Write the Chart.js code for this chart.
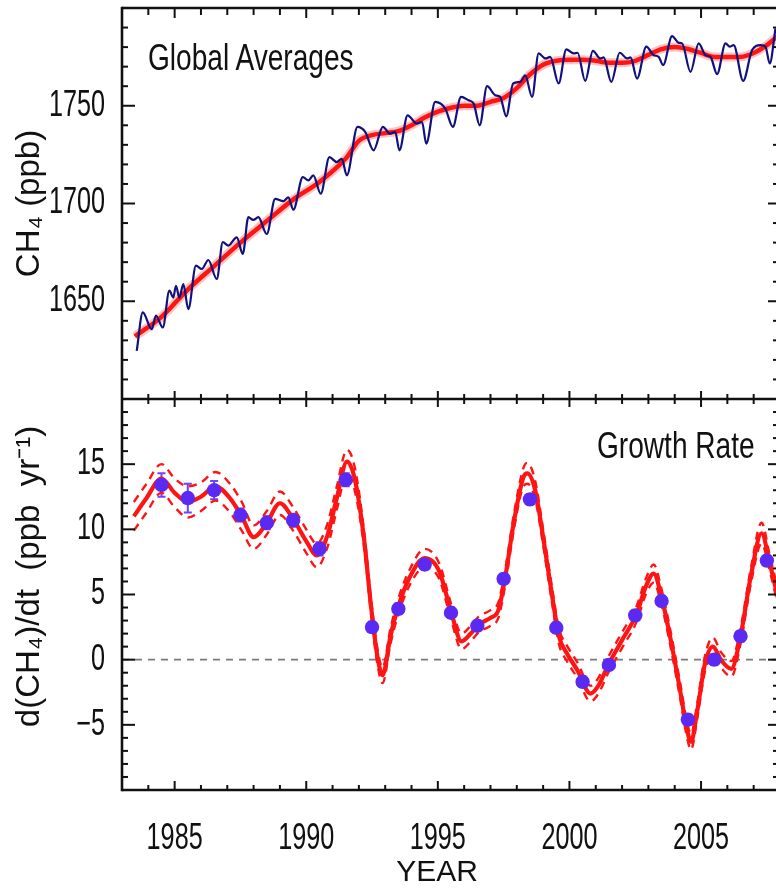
<!DOCTYPE html>
<html><head><meta charset="utf-8">
<script src="https://cdn.jsdelivr.net/npm/chart.js@4.4.1/dist/chart.umd.min.js"></script>
<style>
html,body{margin:0;padding:0;background:#fff;overflow:hidden;width:776px;height:891px;}
#wrap{position:relative;width:776px;height:891px;overflow:hidden;background:#fff;}
canvas{position:absolute;left:0;top:0;}
.lbl{position:absolute;font-family:'Liberation Sans',Arial,sans-serif;font-size:36px;line-height:1;color:#111;transform-origin:0 0;transform:scaleX(0.78);white-space:nowrap;}
</style></head><body>
<div id="wrap"><canvas id="c" width="781" height="891"></canvas>
<div class="lbl" style="left:148px;top:40px">Global Averages</div>
<div class="lbl" style="left:597px;top:428px">Growth Rate</div>
</div>
<script>
// ---- data ----
const monthYears = [1983.56,1983.79,1984.13,1984.29,1984.55,1984.80,1984.95,1985.05,1985.18,1985.33,1985.52,1985.81,1986.03,1986.28,1986.60,1986.83,1987.04,1987.36,1987.59,1987.80,1987.99,1988.18,1988.50,1988.82,1989.13,1989.32,1989.51,1989.87,1990.08,1990.27,1990.55,1990.88,1991.16,1991.35,1991.54,1991.95,1992.24,1992.56,1992.91,1993.19,1993.38,1993.54,1993.85,1994.20,1994.40,1994.56,1994.90,1995.28,1995.57,1995.88,1996.17,1996.36,1996.59,1996.87,1997.18,1997.37,1997.60,1997.86,1998.13,1998.32,1998.58,1998.83,1999.08,1999.27,1999.59,1999.88,2000.16,2000.31,2000.60,2000.89,2001.17,2001.30,2001.59,2001.91,2002.19,2002.32,2002.57,2002.92,2003.20,2003.39,2003.56,2003.90,2004.15,2004.28,2004.60,2004.91,2005.17,2005.36,2005.61,2005.93,2006.09,2006.24,2006.60,2006.94,2007.26,2007.45,2007.61,2007.83];
const monthCH4 = [1624.6,1644.3,1635.7,1642.6,1636.6,1655.4,1651.9,1657.9,1651.9,1658.8,1646.0,1668.2,1666.5,1671.1,1661.4,1680.2,1678.5,1682.7,1674.2,1693.0,1691.6,1693.0,1684.4,1702.4,1701.2,1703.2,1696.8,1713.5,1711.8,1714.4,1705.0,1723.7,1721.2,1722.9,1714.4,1739.2,1736.6,1727.2,1739.2,1735.7,1736.6,1727.2,1745.1,1740.9,1741.7,1730.6,1752.0,1748.6,1739.2,1754.5,1752.8,1751.1,1740.0,1760.0,1755.4,1754.5,1744.6,1761.4,1762.2,1765.6,1754.5,1776.8,1774.2,1775.0,1761.4,1778.8,1776.8,1777.1,1762.7,1778.1,1774.2,1774.7,1762.2,1777.1,1774.2,1774.7,1763.9,1780.2,1775.9,1775.0,1770.8,1785.6,1782.2,1781.9,1767.3,1781.9,1775.9,1775.0,1766.2,1781.9,1780.2,1781.0,1762.7,1778.5,1781.0,1780.2,1771.6,1789.6];

const trendYears = [1983.49,1984.5,1985.5,1986.5,1987.5,1988.5,1989.5,1990.5,1991.5,1992.0,1992.5,1993.0,1993.5,1994.0,1994.5,1995.0,1995.5,1996.0,1996.5,1997.0,1997.5,1998.0,1998.5,1999.0,1999.5,2000.0,2000.5,2001.0,2001.5,2002.0,2002.5,2003.0,2003.5,2004.0,2004.5,2005.0,2005.5,2006.0,2006.5,2007.0,2007.5,2007.9];
const trendCH4 = [1632,1642,1656,1668,1680,1691,1702,1711,1723,1732,1735,1736,1737,1740,1744,1747,1749,1750,1750,1752,1754,1759,1766,1771,1773,1773.5,1773.5,1773,1772,1772,1773,1776,1779,1780,1779,1777,1775,1775,1775,1777,1781,1785.5];

const growthYears = [1983.45,1983.9,1984.5,1985.0,1985.5,1986.0,1986.55,1987.1,1987.55,1988.0,1988.5,1989.0,1989.5,1990.0,1990.4,1990.8,1991.15,1991.55,1991.85,1992.2,1992.45,1992.7,1992.9,1993.2,1993.5,1993.95,1994.5,1995.05,1995.5,1995.9,1996.25,1996.55,1997.0,1997.3,1997.55,1997.9,1998.25,1998.4,1998.7,1999.0,1999.35,1999.6,1999.9,2000.3,2000.8,2001.1,2001.5,2002.0,2002.55,2002.9,2003.2,2003.5,2003.85,2004.2,2004.45,2004.62,2004.85,2005.15,2005.45,2005.75,2006.15,2006.5,2006.9,2007.3,2007.6,2007.95];
const growthRate = [11.0,12.3,13.9,12.8,12.1,12.5,13.3,12.4,11.0,9.4,10.5,12.0,10.8,9.1,8.0,9.5,12.3,15.2,13.8,9.2,4.3,0.3,-1.2,1.8,4.1,6.4,7.8,6.8,3.7,1.4,2.0,2.7,3.2,3.8,6.2,10.7,14.0,14.3,13.0,9.4,4.8,1.8,0.5,-0.8,-2.6,-2.0,-0.3,1.5,3.5,5.6,6.6,4.8,1.5,-2.3,-5.2,-6.3,-4.0,-0.3,1.0,0.0,-0.7,1.8,6.5,9.7,7.5,4.5];
const growthUpper = [12.1,13.4,15.0,13.9,13.3,13.6,14.4,13.5,12.1,10.3,11.4,12.9,11.7,10.0,8.9,10.4,13.2,16.1,14.7,9.8,4.9,0.9,-0.6,2.4,4.7,7.0,8.5,7.4,4.3,2.0,2.6,3.3,3.8,4.4,6.8,11.3,14.7,15.1,13.7,10.0,5.4,2.4,1.1,-0.2,-2.0,-1.4,0.3,2.1,4.1,6.2,7.3,5.4,2.1,-1.7,-4.6,-5.7,-3.4,0.3,1.7,0.6,-0.1,2.4,7.1,10.5,8.1,5.1];
const growthLower = [9.9,11.2,12.8,11.7,10.9,11.4,12.2,11.3,9.9,8.5,9.6,11.1,9.9,8.2,7.1,8.6,11.4,14.3,12.9,8.6,3.7,-0.3,-1.8,1.2,3.5,5.8,7.1,6.2,3.1,0.8,1.4,2.1,2.6,3.2,5.6,10.1,13.3,13.5,12.3,8.8,4.2,1.2,-0.1,-1.4,-3.2,-2.6,-0.9,0.9,2.9,5.0,5.9,4.2,0.9,-2.9,-5.8,-6.9,-4.6,-0.9,0.3,-0.6,-1.3,1.2,5.9,8.9,6.9,3.9];

const annualYears = [1984.5,1985.5,1986.5,1987.5,1988.5,1989.5,1990.5,1991.5,1992.5,1993.5,1994.5,1995.5,1996.5,1997.5,1998.5,1999.5,2000.5,2001.5,2002.5,2003.5,2004.5,2005.5,2006.5,2007.5];
const annualGrowth = [13.4,12.4,13.0,11.1,10.5,10.7,8.5,13.8,2.5,3.9,7.3,3.6,2.6,6.2,12.3,2.45,-1.7,-0.4,3.4,4.5,-4.6,0.0,1.8,7.6];
const annualError = [0.9,1.1,0.7,0.5,0.5,0.5,0.5,0.5,0.4,0.4,0.4,0.4,0.4,0.4,0.4,0.4,0.4,0.4,0.4,0.4,0.4,0.4,0.4,0.4];

const xTickLabels = [1985,1990,1995,2000,2005];
const topTickLabels = [1650,1700,1750];
const botTickLabels = [-5,0,5,10,15];

// ---- chart ----
const FONT = "'Liberation Sans',Arial,sans-serif";
const pts = (xs, ys) => xs.map((x, i) => ({x: x, y: ys[i]}));
const RED = '#ff1414';
const CONDENSE = 0.7;

// tick labels drawn horizontally condensed (narrow plotting font); titles nudged
const condensePlugin = {
  id: 'condense',
  beforeDraw(chart) {
    ['x', 'yTop', 'yBot'].forEach(id => {
      const s = chart.scales[id];
      if (!s || s._condensed) return;
      s._condensed = true;
      s.drawLabels = function(area) {
        const ctx = this.ctx;
        const items = this.getLabelItems(area);
        for (const it of items) {
          const o = it.options;
          ctx.save();
          ctx.translate(o.translation[0], o.translation[1]);
          ctx.rotate(o.rotation || 0);
          ctx.scale(CONDENSE, 1);
          ctx.font = it.font.string;
          ctx.fillStyle = o.color;
          ctx.textAlign = o.textAlign;
          ctx.textBaseline = o.textBaseline;
          ctx.fillText(String(it.label), 0, it.textOffset);
          ctx.restore();
        }
      };
    });
    const shiftTitle = (s, key, amount) => {
      if (!s || s._titleShifted) return;
      s._titleShifted = true;
      const orig = s.drawTitle.bind(s);
      s.drawTitle = function() {
        const saved = this[key];
        this[key] = saved - amount;
        orig();
        this[key] = saved;
      };
    };
    shiftTitle(chart.scales.yBot, 'bottom', 36);
    shiftTitle(chart.scales.x, 'right', 28);
  }
};

const framePlugin = {
  id: 'frame',
  beforeDatasetsDraw(chart) {
    const {ctx, chartArea: ca, scales} = chart;
    const xs = scales.x, yb = scales.yBot;
    ctx.save();
    const y0 = yb.getPixelForValue(0);
    ctx.strokeStyle = '#7a7a7a'; ctx.lineWidth = 1.6; ctx.setLineDash([7, 6]);
    ctx.beginPath(); ctx.moveTo(ca.left, y0); ctx.lineTo(ca.right, y0); ctx.stroke();
    ctx.setLineDash([]); ctx.strokeStyle = '#6a45ff'; ctx.lineWidth = 2;
    annualYears.forEach((yr, i) => {
      const px = xs.getPixelForValue(yr);
      const hi = yb.getPixelForValue(annualGrowth[i] + annualError[i]);
      const lo = yb.getPixelForValue(annualGrowth[i] - annualError[i]);
      ctx.beginPath();
      ctx.moveTo(px, hi); ctx.lineTo(px, lo);
      ctx.moveTo(px - 4, hi); ctx.lineTo(px + 4, hi);
      ctx.moveTo(px - 4, lo); ctx.lineTo(px + 4, lo);
      ctx.stroke();
    });
    ctx.restore();
  },
  afterDatasetsDraw(chart) {
    const {ctx, chartArea: ca, scales} = chart;
    const xs = scales.x, yt = scales.yTop, yb = scales.yBot;
    const div = yt.bottom;
    ctx.save();
    ctx.strokeStyle = '#111'; ctx.setLineDash([]);
    const seg = (x1, y1, x2, y2) => { ctx.beginPath(); ctx.moveTo(x1, y1); ctx.lineTo(x2, y2); ctx.stroke(); };
    ctx.lineWidth = 2;
    for (let yr = Math.ceil(xs.min); yr <= xs.max; yr++) {
      const px = xs.getPixelForValue(yr);
      const major = yr % 5 === 0;
      seg(px, ca.top, px, ca.top + (major ? 10 : 7));
      seg(px, div - (major ? 8 : 5), px, div + (major ? 8 : 5));
      seg(px, ca.bottom, px, ca.bottom - (major ? 9 : 5));
    }
    for (let v = yt.min; v <= yt.max; v += 10) {
      const py = yt.getPixelForValue(v);
      const major = v % 50 === 0;
      seg(ca.left, py, ca.left + (major ? 13 : 6), py);
      seg(ca.right, py, ca.right - (major ? 12 : 7), py);
    }
    for (let v = yb.min; v <= yb.max; v += 1) {
      const py = yb.getPixelForValue(v);
      const major = v % 5 === 0;
      seg(ca.left, py, ca.left + (major ? 13 : 6), py);
      seg(ca.right, py, ca.right - (major ? 12 : 7), py);
    }
    ctx.lineWidth = 2.6;
    seg(ca.left, ca.top, ca.right, ca.top);
    seg(ca.left, ca.bottom, ca.right, ca.bottom);
    seg(ca.left, div, ca.right, div);
    seg(ca.left, ca.top - 1.3, ca.left, ca.bottom + 1.3);
    seg(ca.right, ca.top - 1.3, ca.right, ca.bottom + 1.3);
    ctx.restore();
  }
};

const tickFont = {family: FONT, size: 36};
const titleFont = {family: FONT, size: 33};

new Chart(document.getElementById('c'), {
  type: 'line',
  data: {datasets: [
    {label: 'CH4 monthly', data: pts(monthYears, monthCH4), yAxisID: 'yTop', borderColor: '#10107e', borderWidth: 2.2, pointRadius: 0, cubicInterpolationMode: 'monotone'},
    {label: 'CH4 trend', data: pts(trendYears, trendCH4), yAxisID: 'yTop', borderColor: RED, borderWidth: 4.5, pointRadius: 0, cubicInterpolationMode: 'monotone'},
    {label: 'CH4 trend halo', data: pts(trendYears, trendCH4), yAxisID: 'yTop', borderColor: 'rgba(255,90,90,0.35)', borderWidth: 9, pointRadius: 0, cubicInterpolationMode: 'monotone'},
    {label: 'Annual growth', data: pts(annualYears, annualGrowth), yAxisID: 'yBot', showLine: false, pointRadius: 7.2, pointBackgroundColor: '#5a2af2', pointBorderWidth: 0, borderColor: '#5a2af2'},
    {label: 'Growth rate', data: pts(growthYears, growthRate), yAxisID: 'yBot', borderColor: RED, borderWidth: 4.2, pointRadius: 0, cubicInterpolationMode: 'monotone'},
    {label: 'Upper', data: pts(growthYears, growthUpper), yAxisID: 'yBot', borderColor: RED, borderWidth: 2.4, borderDash: [8, 6], pointRadius: 0, cubicInterpolationMode: 'monotone'},
    {label: 'Lower', data: pts(growthYears, growthLower), yAxisID: 'yBot', borderColor: RED, borderWidth: 2.4, borderDash: [8, 6], pointRadius: 0, cubicInterpolationMode: 'monotone'}
  ]},
  options: {
    responsive: false, animation: false, devicePixelRatio: 1,
    layout: {padding: {top: 8, right: 1, left: 0, bottom: 0}, autoPadding: false},
    plugins: {legend: {display: false}, tooltip: {enabled: false}},
    scales: {
      x: {
        type: 'linear', position: 'bottom', min: 1983, max: 2008,
        grid: {display: false}, border: {display: false},
        afterBuildTicks: s => { s.ticks = xTickLabels.map(v => ({value: v})); },
        ticks: {font: tickFont, color: '#111', padding: 19, maxRotation: 0, autoSkip: false, callback: v => String(v)},
        title: {display: true, text: 'YEAR', font: {family: FONT, size: 30}, color: '#111', padding: {top: 0, bottom: 0}},
        afterFit: s => { s.height = 101; s.paddingLeft = 0; s.paddingRight = 0; }
      },
      yTop: {
        type: 'linear', position: 'left', stack: 'v', stackWeight: 1, weight: 2, min: 1600, max: 1800,
        grid: {display: false}, border: {display: false},
        afterBuildTicks: s => { s.ticks = topTickLabels.map(v => ({value: v})); },
        ticks: {font: tickFont, color: '#111', padding: 9, callback: v => String(v)},
        title: {display: true, text: 'CH\u2084 (ppb)', font: titleFont, color: '#111', padding: {top: 10, bottom: 0}},
        afterFit: s => { s.width = 122; s.paddingTop = 0; s.paddingBottom = 0; }
      },
      yBot: {
        type: 'linear', position: 'left', stack: 'v', stackWeight: 1, weight: 1, min: -10, max: 20,
        grid: {display: false}, border: {display: false},
        afterBuildTicks: s => { s.ticks = botTickLabels.map(v => ({value: v})); },
        ticks: {font: tickFont, color: '#111', padding: 9, callback: v => (v < 0 ? '\u2212' + Math.abs(v) : String(v))},
        title: {display: true, text: 'd(CH\u2084)/dt  (ppb  yr\u207B\u00B9)', font: titleFont, color: '#111', padding: {top: 10, bottom: 0}},
        afterFit: s => { s.width = 122; s.paddingTop = 0; s.paddingBottom = 0; }
      }
    }
  },
  plugins: [condensePlugin, framePlugin]
});
</script>
</body></html>
